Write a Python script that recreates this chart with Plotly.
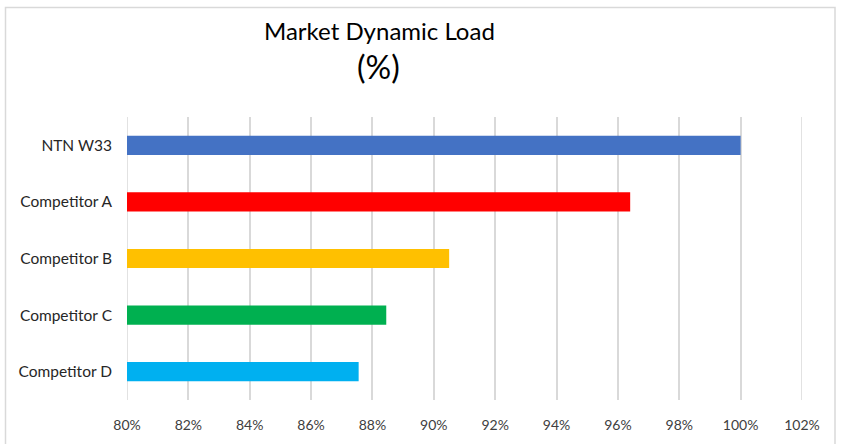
import plotly.graph_objects as go

categories = ["NTN W33", "Competitor A", "Competitor B", "Competitor C", "Competitor D"]
values = [100.0, 96.4, 90.5, 88.45, 87.55]
colors = ["#4472C4", "#FF0000", "#FFC000", "#00B050", "#00B0F0"]
tick_vals = list(range(80, 103, 2))
tick_text = [f"{v}%" for v in tick_vals]

W, H = 841, 444
L, R, T, B = 127, 39, 117, 44
pw, ph = W - L - R, H - T - B

def px_x(x):
    return (x - L) / pw

def px_y(y):
    return (H - B - y) / ph

fig = go.Figure(go.Bar(
    y=categories, x=values, orientation="h",
    marker=dict(color=colors, line=dict(width=0)),
    width=0.34,
))

fig.update_layout(
    width=W, height=H,
    margin=dict(l=L, r=R, t=T, b=B),
    paper_bgcolor="white", plot_bgcolor="white",
    showlegend=False,
    font=dict(family="Lato, Open Sans, sans-serif", color="#404040", size=14),
    xaxis=dict(range=[80, 102], tickvals=tick_vals, ticktext=tick_text,
               showgrid=True, gridcolor="#d9d9d9", gridwidth=1.5,
               zeroline=False, showline=False, ticks="",
               ticklabelstandoff=15, tickfont=dict(size=14, color="#404040")),
    yaxis=dict(autorange="reversed", showgrid=False, zeroline=False,
               showline=False, ticks="", ticklabelstandoff=14,
               tickfont=dict(size=15.5, color="#262626")),
    annotations=[
        dict(text="Market Dynamic Load", x=px_x(379), y=px_y(30), xref="paper", yref="paper",
             showarrow=False, font=dict(size=24, color="#000000"), xanchor="center", yanchor="middle"),
        dict(text="(%)", x=px_x(378), y=px_y(66), xref="paper", yref="paper",
             showarrow=False, font=dict(size=32, color="#000000"), xanchor="center", yanchor="middle"),
    ],
    shapes=[
        dict(type="rect", xref="paper", yref="paper",
             x0=px_x(5.5), x1=px_x(835), y0=px_y(452), y1=px_y(7.5),
             line=dict(color="#d9d9d9", width=1.5), fillcolor="rgba(0,0,0,0)", layer="below"),
        dict(type="line", xref="x", yref="paper", x0=80, x1=80, y0=0, y1=1,
             line=dict(color="#d9d9d9", width=1.5), layer="below"),
        dict(type="line", xref="x", yref="paper", x0=102, x1=102, y0=0, y1=1,
             line=dict(color="#d9d9d9", width=1.5), layer="below"),
    ],
)

fig.write_html("out.html", config={"displayModeBar": False},
               post_script="document.body.style.margin='0';")
